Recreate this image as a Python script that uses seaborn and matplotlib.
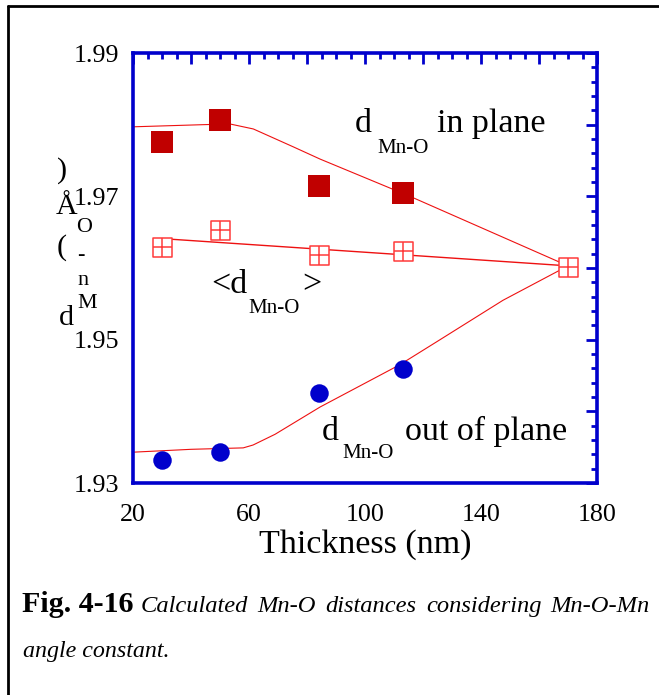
import numpy as np
import pandas as pd
import matplotlib
matplotlib.use("Agg")
import matplotlib.pyplot as plt
from matplotlib.ticker import MultipleLocator, FuncFormatter
from matplotlib.lines import Line2D
import seaborn as sns

# ---- data ----
thickness = [30, 50, 84, 113]
d_in_plane = [1.9776, 1.9807, 1.9714, 1.9705]
d_out_plane = [1.9332, 1.9343, 1.9426, 1.9459]
avg_x = [30, 50, 84, 113, 170]
d_avg = [1.9629, 1.9653, 1.9618, 1.9624, 1.9601]

fit_in_x = [20, 44.2, 53.4, 61.5, 75.3, 84.5, 115.5, 170]
fit_in_y = [1.9797, 1.9800, 1.9801, 1.9794, 1.9769, 1.9752, 1.9700, 1.9603]
fit_out_x = [20, 40, 58, 61.4, 69, 84.5, 112, 124.7, 147.6, 170]
fit_out_y = [1.9343, 1.9347, 1.9349, 1.9353, 1.9368, 1.9406, 1.9465, 1.9497, 1.9555, 1.9603]
fit_avg_x = [30, 170]
fit_avg_y = [1.9641, 1.9603]

x_labels = ["20", "60", "100", "140", "180"]
y_labels = ["1.93", "1.95", "1.97", "1.99"]

# ---- style ----
sns.set_style("white")
plt.rcParams["font.family"] = ["Liberation Serif", "DejaVu Serif"]
plt.rcParams["text.color"] = "black"
plt.rcParams["axes.labelcolor"] = "black"

W, H = 659, 695
DPI = 100
fig = plt.figure(figsize=(W / DPI, H / DPI), dpi=DPI)
fig.patch.set_facecolor("white")

def fx(px):
    return px / W

def fy(py):
    return 1 - py / H

def pt(px):
    return px * 72 / DPI

ax = fig.add_axes([fx(133), fy(483), fx(597) - fx(133), fy(53) - fy(483)])

BLUE = "#0000CC"
DRED = "#C00000"
LRED = "#FF3A3A"
LINE = "#EE1111"

# fit lines
sns.lineplot(x=fit_in_x, y=fit_in_y, ax=ax, color=LINE, lw=0.8, sort=False,
             estimator=None, zorder=2)
sns.lineplot(x=fit_out_x, y=fit_out_y, ax=ax, color=LINE, lw=0.8, sort=False,
             estimator=None, zorder=2)
sns.lineplot(x=fit_avg_x, y=fit_avg_y, ax=ax, color=LINE, lw=1.0, sort=False,
             estimator=None, zorder=2)

# markers
sns.scatterplot(x=thickness, y=d_in_plane, ax=ax, marker="s", s=pt(22) ** 2,
                color=DRED, edgecolor=DRED, linewidth=0, zorder=4)
sns.scatterplot(x=thickness, y=d_out_plane, ax=ax, marker="o", s=pt(18.5) ** 2,
                color=BLUE, edgecolor=BLUE, linewidth=0, zorder=4)
sns.scatterplot(x=avg_x, y=d_avg, ax=ax, marker="s", s=pt(19) ** 2,
                facecolor="white", edgecolor=LRED, linewidth=1.1, zorder=4)
sns.scatterplot(x=avg_x, y=d_avg, ax=ax, marker="+", s=pt(19) ** 2,
                color=LRED, linewidth=1.1, zorder=5)

ax.set_xlim(20, 180)
ax.set_ylim(1.93, 1.99)

ax.xaxis.set_major_locator(MultipleLocator(20))
ax.xaxis.set_minor_locator(MultipleLocator(5))
ax.yaxis.set_major_locator(MultipleLocator(0.01))
ax.yaxis.set_minor_locator(MultipleLocator(0.002))

def xfmt(v, pos):
    s = f"{v:.0f}"
    return s if s in x_labels else ""

def yfmt(v, pos):
    s = f"{v:.2f}"
    return s if s in y_labels else ""

ax.xaxis.set_major_formatter(FuncFormatter(xfmt))
ax.yaxis.set_major_formatter(FuncFormatter(yfmt))

ax.tick_params(which="both", direction="in", top=True, right=True, colors=BLUE,
               labelcolor="black")
ax.tick_params(which="major", length=pt(11), width=2.0, labelsize=pt(26))
ax.tick_params(which="minor", length=pt(6), width=2.0)
ax.tick_params(axis="y", which="major", pad=pt(14))
ax.tick_params(axis="x", which="major", pad=pt(21))

for sp in ax.spines.values():
    sp.set_color(BLUE)
    sp.set_linewidth(2.6)
    sp.set_visible(True)

ax.set_xlabel("Thickness (nm)", fontsize=pt(34), labelpad=pt(3), color="black")
ax.set_ylabel("")

# ---- y-label as scattered glyphs (as in the reference) ----
big = pt(30)
small = pt(22)
ylab = [(")", 62, 178, big), ("Å", 66, 214, big), ("O", 84, 232, small),
        ("(", 62, 255, big), ("-", 81, 260, small), ("n", 83, 285, small),
        ("M", 87, 308, small), ("d", 66, 325, big)]
for ch, xx, yy, fs in ylab:
    fig.text(fx(xx), fy(yy), ch, ha="center", va="baseline", fontsize=fs)

# ---- annotations ----
ann = pt(34)
sub = pt(21)
fig.text(fx(355), fy(132), "d", fontsize=ann, va="baseline")
fig.text(fx(377), fy(153), "Mn-O", fontsize=sub, va="baseline")
fig.text(fx(437), fy(132), "in plane", fontsize=ann, va="baseline")

fig.text(fx(211), fy(293), "<d", fontsize=ann, va="baseline")
fig.text(fx(248), fy(313), "Mn-O", fontsize=sub, va="baseline")
fig.text(fx(302), fy(293), ">", fontsize=ann, va="baseline")

fig.text(fx(322), fy(440), "d", fontsize=ann, va="baseline")
fig.text(fx(342), fy(458), "Mn-O", fontsize=sub, va="baseline")
fig.text(fx(405), fy(440), "out of plane", fontsize=ann, va="baseline")

# ---- caption ----
fig.text(fx(22), fy(612), "Fig. 4-16", fontsize=pt(30), fontweight="bold",
         va="baseline")
cap_words = ["Calculated", "Mn-O", "distances", "considering", "Mn-O-Mn"]
cap_left, cap_right = 141, 650
renderer = fig.canvas.get_renderer()
texts = [fig.text(0, fy(612), w, fontsize=pt(24.5), fontstyle="italic",
                  va="baseline") for w in cap_words]
widths = [t.get_window_extent(renderer).width for t in texts]
gap = (cap_right - cap_left - sum(widths)) / (len(texts) - 1)
xcur = cap_left
for t, wd in zip(texts, widths):
    t.set_x(fx(xcur))
    xcur += wd + gap
fig.text(fx(23), fy(657), "angle constant.", fontsize=pt(24),
         fontstyle="italic", va="baseline")

# ---- outer frame (top and left edges visible) ----
fig.add_artist(Line2D([fx(8), fx(8)], [0, fy(5.5)], transform=fig.transFigure,
                      color="black", lw=2.0))
fig.add_artist(Line2D([fx(8), 1], [fy(5.5), fy(5.5)], transform=fig.transFigure,
                      color="black", lw=2.0))

fig.savefig("out.png", dpi=DPI, facecolor="white")
